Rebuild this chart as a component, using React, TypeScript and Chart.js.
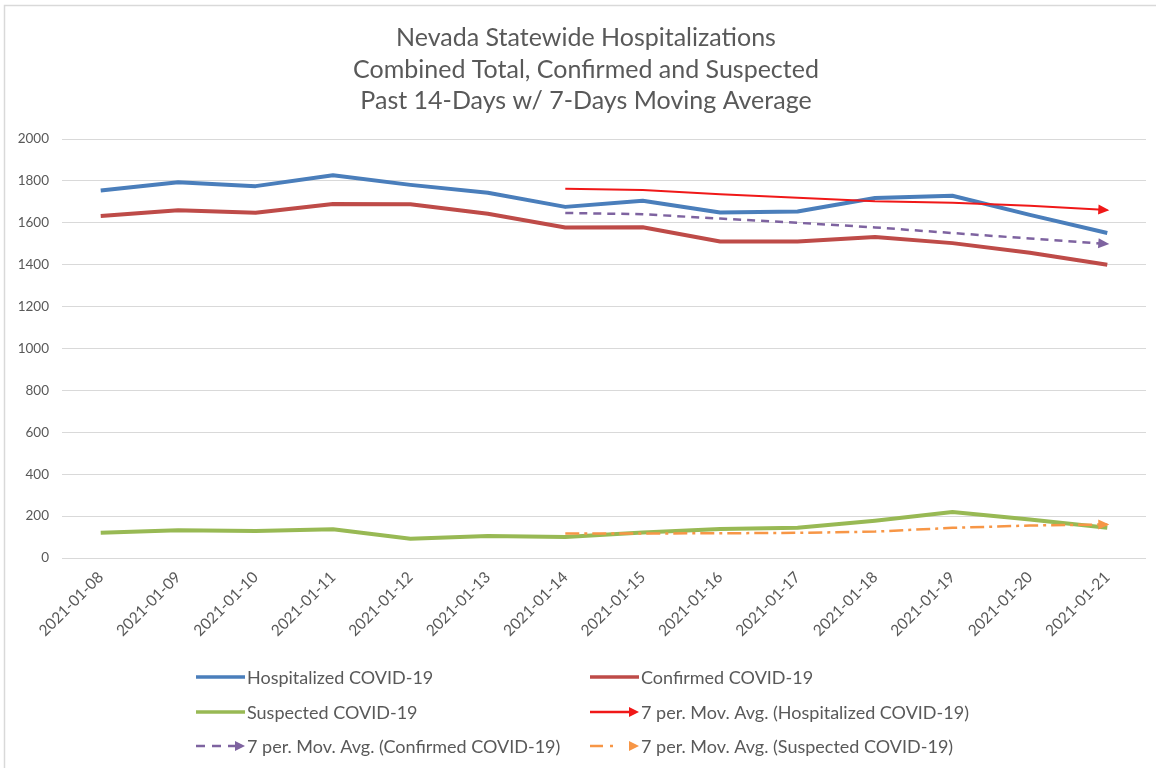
import { useEffect, useRef } from "react";
import { Chart, registerables } from "chart.js";

Chart.register(...registerables);

const dates = [
  "2021-01-08", "2021-01-09", "2021-01-10", "2021-01-11", "2021-01-12", "2021-01-13", "2021-01-14",
  "2021-01-15", "2021-01-16", "2021-01-17", "2021-01-18", "2021-01-19", "2021-01-20", "2021-01-21",
];
const hospitalized = [1754, 1794, 1775, 1827, 1781, 1743, 1676, 1705, 1649, 1654, 1718, 1729, 1638, 1551];
const confirmed = [1633, 1660, 1648, 1690, 1689, 1643, 1578, 1579, 1511, 1511, 1532, 1503, 1457, 1400];
const suspected = [120, 133, 129, 137, 92, 105, 100, 122, 138, 144, 178, 220, 184, 144];
const maHospitalized = [null, null, null, null, null, null, 1762, 1757, 1736, 1719, 1703, 1696, 1681, 1661];
const maConfirmed = [null, null, null, null, null, null, 1647, 1641, 1620, 1600, 1578, 1551, 1525, 1499];
const maSuspected = [null, null, null, null, null, null, 117, 117, 118, 120, 126, 144, 155, 160];

const titleLines = [
  "Nevada Statewide Hospitalizations",
  "Combined Total, Confirmed and Suspected",
  "Past 14-Days w/ 7-Days Moving Average",
];

const FONT = "Lato, 'Liberation Sans', sans-serif";
const TEXT = "#595959";

type Series = {
  label: string;
  data: (number | null)[];
  color: string;
  width: number;
  dash: number[];
  legendDash: number[];
  arrow: boolean;
};

const series: Series[] = [
  { label: "Hospitalized COVID-19", data: hospitalized, color: "#4a7ebb", width: 4, dash: [], legendDash: [], arrow: false },
  { label: "Confirmed COVID-19", data: confirmed, color: "#be4b48", width: 4, dash: [], legendDash: [], arrow: false },
  { label: "Suspected COVID-19", data: suspected, color: "#98b954", width: 4, dash: [], legendDash: [], arrow: false },
  { label: "7 per. Mov. Avg. (Hospitalized COVID-19)", data: maHospitalized, color: "#f01818", width: 2, dash: [], legendDash: [], arrow: true },
  { label: "7 per. Mov. Avg. (Confirmed COVID-19)", data: maConfirmed, color: "#7e63a0", width: 2.5, dash: [8, 6], legendDash: [9, 7], arrow: true },
  { label: "7 per. Mov. Avg. (Suspected COVID-19)", data: maSuspected, color: "#f79646", width: 2.5, dash: [14, 5, 3, 5], legendDash: [13, 7, 3, 20], arrow: true },
];

function drawArrow(ctx: CanvasRenderingContext2D, x: number, y: number, angle: number, color: string, len = 11, half = 5) {
  ctx.save();
  ctx.translate(x, y);
  ctx.rotate(angle);
  ctx.fillStyle = color;
  ctx.beginPath();
  ctx.moveTo(2, 0);
  ctx.lineTo(2 - len, -half);
  ctx.lineTo(2 - len, half);
  ctx.closePath();
  ctx.fill();
  ctx.restore();
}

const decorPlugin = {
  id: "decor",
  beforeDraw(chart: any) {
    const ctx = chart.ctx as CanvasRenderingContext2D;
    ctx.save();
    ctx.fillStyle = "#ffffff";
    ctx.fillRect(0, 0, chart.width, chart.height);
    ctx.strokeStyle = "#d9d9d9";
    ctx.lineWidth = 1.5;
    ctx.beginPath();
    ctx.moveTo(4.5, chart.height);
    ctx.lineTo(4.5, 5.5);
    ctx.lineTo(chart.width, 5.5);
    ctx.stroke();
    // title
    ctx.fillStyle = TEXT;
    ctx.font = `25px ${FONT}`;
    ctx.textAlign = "center";
    ctx.textBaseline = "middle";
    titleLines.forEach((t, i) => ctx.fillText(t, 586, 38 + i * 31.5));
    ctx.restore();
  },
  afterDatasetsDraw(chart: any) {
    const ctx = chart.ctx as CanvasRenderingContext2D;
    series.forEach((s, i) => {
      if (!s.arrow) return;
      const pts = chart.getDatasetMeta(i).data;
      const a = pts[pts.length - 2];
      const b = pts[pts.length - 1];
      const ang = Math.atan2(b.y - a.y, b.x - a.x);
      drawArrow(ctx, b.x, b.y, ang, s.color);
    });
  },
  afterDraw(chart: any) {
    const ctx = chart.ctx as CanvasRenderingContext2D;
    ctx.save();
    ctx.font = `18px ${FONT}`;
    ctx.textBaseline = "middle";
    ctx.textAlign = "left";
    const cols = [196, 590];
    const rows = [677, 712, 746];
    series.forEach((s, i) => {
      const x = cols[i % 2];
      const y = rows[Math.floor(i / 2)];
      ctx.strokeStyle = s.color;
      ctx.lineWidth = s.arrow ? Math.max(s.width, 2.5) : 3.5;
      ctx.setLineDash(s.legendDash);
      ctx.beginPath();
      ctx.moveTo(x, y);
      ctx.lineTo(x + (s.arrow ? 40 : 49), y);
      ctx.stroke();
      ctx.setLineDash([]);
      if (s.arrow) drawArrow(ctx, x + 47, y, 0, s.color, 10, 5);
      ctx.fillStyle = TEXT;
      ctx.fillText(s.label, x + 51, y + 1);
    });
    ctx.restore();
  },
};

export default function App() {
  const ref = useRef<HTMLCanvasElement | null>(null);

  useEffect(() => {
    if (!ref.current) return;
    const chart = new Chart(ref.current, {
      type: "line",
      data: {
        labels: dates,
        datasets: series.map((s) => ({
          label: s.label,
          data: s.data,
          borderColor: s.color,
          backgroundColor: s.color,
          borderWidth: s.width,
          borderDash: s.dash,
          borderCapStyle: "butt",
          borderJoinStyle: "round",
          pointRadius: 0,
          tension: 0,
          fill: false,
          order: s.arrow ? 0 : 1,
        })),
      },
      options: {
        animation: false,
        responsive: false,
        maintainAspectRatio: false,
        layout: { padding: { top: 139, right: 10, bottom: 110, left: 0 } },
        plugins: {
          legend: { display: false },
          title: { display: false },
          tooltip: { enabled: false },
        },
        scales: {
          x: {
            offset: true,
            grid: { display: false },
            border: { display: false },
            ticks: {
              autoSkip: false,
              minRotation: 45,
              maxRotation: 45,
              color: TEXT,
              font: { family: FONT, size: 15.5 },
              padding: 2,
            },
            afterFit: (scale: any) => {
              scale.height = 100;
            },
          },
          y: {
            min: 0,
            max: 2000,
            ticks: {
              stepSize: 200,
              color: TEXT,
              font: { family: FONT, size: 13.5 },
              padding: 13,
              callback: (v: any) => String(v),
            },
            grid: { color: "#d9d9d9", lineWidth: 1, drawTicks: false },
            border: { display: false },
            afterFit: (scale: any) => {
              scale.width = 62;
            },
          },
        },
      },
      plugins: [decorPlugin],
    });
    return () => chart.destroy();
  }, []);

  return (
    <div style={{ position: "fixed", left: 0, top: 0, width: 1156, height: 768, background: "#fff" }}>
      <canvas ref={ref} width={1156} height={768} style={{ display: "block" }} />
    </div>
  );
}
